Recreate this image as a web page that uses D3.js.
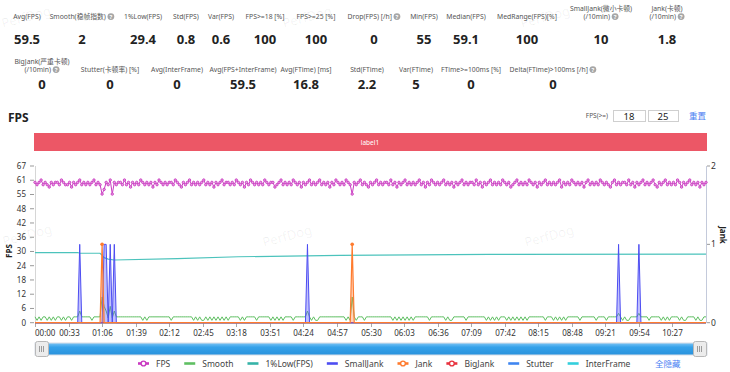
<!DOCTYPE html>
<html lang="en">

<head>
    <meta charset="UTF-8">
    <title>FPS</title>
    <script src="https://d3js.org/d3.v7.min.js"></script>
    <style>
        body {
            margin: 0;
            background-color: white;
        }

        svg {
            display: block;
            font-family: 'Noto Sans', 'Noto Sans CJK SC', sans-serif;
        }
    </style>
</head>

<body>
    <svg width="730" height="372"></svg>

    <script>
        // summary numbers
        const statLabels1 = ['Avg(FPS)', 'Smooth(稳帧指数)', '1%Low(FPS)', 'Std(FPS)', 'Var(FPS)', 'FPS>=18 [%]', 'FPS>=25 [%]',
            'Drop(FPS) [/h]', 'Min(FPS)', 'Median(FPS)', 'MedRange(FPS)[%]', 'SmallJank(微小卡顿)\n(/10min)', 'Jank(卡顿)\n(/10min)'];
        const statValues1 = ['59.5', '2', '29.4', '0.8', '0.6', '100', '100', '0', '55', '59.1', '100', '10', '1.8'];
        const statHelp1 = [false, true, false, false, false, false, false, true, false, false, false, true, true];

        const statLabels2 = ['BigJank(严重卡顿)\n(/10min)', 'Stutter(卡顿率) [%]', 'Avg(InterFrame)', 'Avg(FPS+InterFrame)',
            'Avg(FTime) [ms]', 'Std(FTime)', 'Var(FTime)', 'FTime>=100ms [%]', 'Delta(FTime)>100ms [/h]'];
        const statValues2 = ['0', '0', '0', '59.5', '16.8', '2.2', '5', '0', '0'];
        const statHelp2 = [true, false, false, false, false, false, false, false, true];

        // chart data, one sample every 2 s
        const fps = [
            60, 59, 60, 61, 59, 60, 59, 58, 60, 59, 60, 60, 59, 61, 60, 59, 59, 60, 58, 60,
            59, 60, 61, 59, 60, 59, 60, 59, 60, 61, 59, 60, 59, 55, 57, 60, 59, 61, 55, 60,
            59, 60, 60, 59, 61, 59, 60, 58, 60, 59, 60, 59, 61, 60, 59, 60, 59, 60, 58, 60,
            59, 61, 60, 59, 60, 59, 60, 60, 59, 61, 60, 59, 58, 60, 59, 60, 61, 59, 60, 59,
            60, 59, 60, 61, 59, 60, 59, 60, 58, 60, 59, 60, 61, 59, 60, 60, 59, 60, 59, 61,
            60, 59, 60, 58, 60, 59, 61, 60, 59, 60, 59, 60, 59, 61, 60, 59, 60, 60, 58, 59,
            60, 61, 59, 60, 59, 60, 59, 61, 60, 59, 60, 58, 60, 59, 60, 61, 59, 60, 59, 60,
            61, 59, 60, 59, 60, 58, 60, 59, 61, 60, 59, 60, 59, 61, 60, 59, 55, 60, 59, 60,
            61, 59, 60, 59, 58, 60, 59, 60, 61, 59, 60, 59, 60, 60, 59, 61, 59, 60, 58, 60,
            59, 60, 61, 59, 60, 59, 60, 59, 60, 61, 59, 60, 58, 60, 59, 61, 60, 59, 60, 59,
            60, 61, 59, 60, 59, 60, 58, 60, 59, 60, 61, 59, 60, 59, 60, 60, 59, 61, 59, 60,
            58, 60, 59, 60, 61, 59, 60, 59, 60, 59, 61, 60, 59, 60, 58, 59, 60, 61, 59, 60,
            59, 60, 59, 61, 60, 59, 60, 58, 60, 59, 60, 61, 59, 60, 59, 60, 59, 60, 61, 58,
            60, 59, 60, 59, 61, 60, 59, 60, 59, 60, 58, 60, 61, 59, 60, 59, 60, 59, 61, 60,
            59, 60, 59, 58, 60, 61, 59, 60, 59, 60, 60, 59, 61, 59, 60, 58, 60, 59, 60, 61,
            59, 60, 59, 60, 61, 59, 58, 60, 59, 60, 61, 59, 60, 59, 60, 59, 61, 60, 58, 60,
            59, 60, 61, 59, 60, 59, 60, 58, 60, 59, 60
        ];
        const smooth = [
            2.5, 1, 2.5, 1, 2.5, 2.5, 1, 2.5, 1, 2.5, 1, 2.5, 2.5, 1, 2.5, 1, 2.5, 2.5, 1, 2.5,
            2.5, 2.5, 5, 2.5, 2.5, 2.5, 2.5, 2.5, 1, 2.5, 2.5, 2.5, 2.5, 11, 7, 5, 2, 7, 2, 5,
            2.5, 2.5, 2.5, 2.5, 2.5, 2.5, 2.5, 2.5, 2.5, 2.5, 2.5, 2.5, 2.5, 1, 2.5, 1, 2.5, 2.5, 2.5, 2.5,
            2.5, 2.5, 2.5, 2.5, 2.5, 2.5, 2.5, 1, 2.5, 2.5, 2.5, 2.5, 2.5, 2.5, 2.5, 2.5, 2.5, 2.5, 1, 2.5,
            1, 2.5, 1, 1, 2.5, 1, 2.5, 1, 2.5, 1, 2.5, 1, 2.5, 1, 2.5, 1, 2.5, 2.5, 2.5, 2.5,
            2.5, 1, 2.5, 1, 2.5, 2.5, 2.5, 2.5, 2.5, 1, 2.5, 2.5, 2.5, 2.5, 2.5, 2.5, 1, 2.5, 1, 2.5,
            1, 2.5, 1, 2.5, 2.5, 2.5, 2.5, 1, 2.5, 2.5, 2.5, 2.5, 2.5, 2.5, 5, 2.5, 1, 2.5, 1, 1,
            2.5, 2.5, 2.5, 2.5, 2.5, 2.5, 2.5, 2.5, 2.5, 2.5, 2.5, 2.5, 2.5, 1, 2.5, 1, 11, 2.5, 1, 2.5,
            2.5, 2.5, 1, 2.5, 2.5, 2.5, 2.5, 2.5, 2.5, 2.5, 2.5, 2.5, 2.5, 2.5, 2.5, 2.5, 1, 2.5, 1, 2.5,
            1, 2.5, 1, 2.5, 1, 2.5, 1, 2.5, 2.5, 2.5, 2.5, 2.5, 2.5, 2.5, 1, 2.5, 2.5, 2.5, 2.5, 2.5,
            2.5, 2.5, 1, 2.5, 1, 1, 2.5, 2.5, 2.5, 2.5, 2.5, 2.5, 1, 2.5, 2.5, 2.5, 2.5, 2.5, 2.5, 2.5,
            2.5, 2.5, 1, 2.5, 1, 2.5, 1, 2.5, 1, 2.5, 2.5, 2.5, 1, 2.5, 1, 2.5, 1, 2.5, 1, 2.5,
            1, 2.5, 1, 2.5, 2.5, 2.5, 2.5, 2.5, 2.5, 2.5, 2.5, 1, 2.5, 2.5, 2.5, 1, 2.5, 1, 2.5, 1,
            2.5, 1, 2.5, 2.5, 2.5, 2.5, 2.5, 2.5, 1, 2.5, 2.5, 2.5, 2.5, 2.5, 2.5, 2.5, 1, 2.5, 2.5, 2.5,
            2.5, 1, 2.5, 2.5, 2.5, 2.5, 2.5, 4, 2.5, 1, 2.5, 1, 1, 2.5, 2.5, 2.5, 2.5, 4, 2.5, 2.5,
            2.5, 2.5, 1, 2.5, 2.5, 2.5, 2.5, 2.5, 1, 2.5, 1, 2.5, 1, 2.5, 2.5, 2.5, 2.5, 1, 2.5, 1,
            1, 2.5, 2.5, 2.5, 2.5, 1, 2.5, 1, 1, 2.5, 2.5
        ];
        // running 1%Low(FPS) as [seconds, value]
        const lowFps = [[0, 30], [42, 30], [44, 29.7], [64, 29.7], [66, 28.8], [68, 27.8], [72, 27.2], [78, 26.8],
            [140, 27.4], [200, 28.2], [300, 28.8], [447, 29.2], [660, 29.3]];
        const smallJankAt = [44, 68, 70, 74, 78, 268, 574, 594];
        const jankAt = [66, 312];

        const xTickLabels = ['00:00', '00:33', '01:06', '01:39', '02:12', '02:45', '03:18', '03:51', '04:24', '04:57',
            '05:30', '06:03', '06:36', '07:09', '07:42', '08:15', '08:48', '09:21', '09:54', '10:27'];
        const yTickLabels = ['0', '6', '12', '18', '24', '30', '36', '42', '48', '55', '61', '67'];
        const jankTickLabels = ['0', '1', '2'];
        const legendNames = ['FPS', 'Smooth', '1%Low(FPS)', 'SmallJank', 'Jank', 'BigJank', 'Stutter', 'InterFrame'];

        const colors = {
            FPS: '#c93ac1', Smooth: '#5fbf62', '1%Low(FPS)': '#35b3a8', SmallJank: '#4d4df2',
            Jank: '#ff7b2e', BigJank: '#e8333f', Stutter: '#3f86f0', InterFrame: '#33cfdc'
        };

        const svg = d3.select('svg');

        // watermarks
        [[3, 28], [284, 28], [522, 28], [4, 246], [264, 247], [526, 247]].forEach(p => {
            svg.append('text')
                .attr('transform', `translate(${p[0]},${p[1]}) rotate(-15)`)
                .attr('font-size', 13)
                .attr('fill', 'rgba(0,0,0,0.06)')
                .text('PerfDog');
        });

        function helpIcon(x, y) {
            svg.append('circle').attr('cx', x).attr('cy', y).attr('r', 3.4).attr('fill', '#a6a6a6');
            svg.append('text').attr('x', x).attr('y', y + 2.1)
                .attr('text-anchor', 'middle').attr('font-size', 5.8).attr('font-weight', 'bold')
                .attr('fill', 'white').text('?');
        }

        function drawStats(labels, values, help, centers, baseY, valueY) {
            labels.forEach((label, i) => {
                const lines = label.split('\n');
                lines.forEach((line, j) => {
                    const y = baseY - (lines.length - 1 - j) * 8.5;
                    const last = j === lines.length - 1;
                    const t = svg.append('text')
                        .attr('y', y)
                        .attr('font-size', 6.8)
                        .attr('fill', '#555')
                        .text(line);
                    const w = t.node().getComputedTextLength();
                    const full = w + (help[i] && last ? 8.5 : 0);
                    const x0 = centers[i] - full / 2;
                    t.attr('x', x0);
                    if (help[i] && last) helpIcon(x0 + w + 5, y - 2.4);
                });
                svg.append('text')
                    .attr('x', centers[i])
                    .attr('y', valueY)
                    .attr('text-anchor', 'middle')
                    .attr('font-size', 13)
                    .attr('font-weight', 'bold')
                    .attr('fill', '#222')
                    .text(values[i]);
            });
        }

        drawStats(statLabels1, statValues1, statHelp1,
            [27, 82, 143, 186, 221, 265, 316, 374, 424, 466, 527, 601, 667], 19, 44);
        drawStats(statLabels2, statValues2, statHelp2,
            [42, 110, 177, 243, 306, 367, 416, 471, 553], 72, 89);

        // section header
        svg.append('text').attr('x', 8).attr('y', 122)
            .attr('font-size', 12).attr('font-weight', 'bold').attr('fill', '#222').text('FPS');

        svg.append('text').attr('x', 608).attr('y', 118).attr('text-anchor', 'end')
            .attr('font-size', 6.5).attr('fill', '#555').text('FPS(>=)');
        [[613, 32, '18'], [648, 30, '25']].forEach(b => {
            svg.append('rect').attr('x', b[0] + 0.5).attr('y', 110.5).attr('width', b[1]).attr('height', 11)
                .attr('fill', 'white').attr('stroke', '#cfcfcf');
            svg.append('text').attr('x', b[0] + b[1] / 2).attr('y', 119.5).attr('text-anchor', 'middle')
                .attr('font-size', 9.5).attr('fill', '#222').text(b[2]);
        });
        svg.append('text').attr('x', 689).attr('y', 119).attr('font-size', 8.5)
            .attr('fill', '#4a7ef2').text('重置');

        svg.append('rect').attr('x', 34).attr('y', 133).attr('width', 673).attr('height', 18)
            .attr('fill', '#ec5766');
        svg.append('text').attr('x', 370).attr('y', 145).attr('text-anchor', 'middle')
            .attr('font-size', 6.5).attr('fill', 'white').text('label1');

        // chart
        const x = d3.scaleLinear().domain([0, 660]).range([35, 706]);
        const y = d3.scaleLinear().domain([0, 67]).range([322.7, 166]);
        const yJank = d3.scaleLinear().domain([0, 2]).range([322.7, 166]);

        const toSec = s => +s.slice(0, 2) * 60 + +s.slice(3);

        const chart = svg.append('g');

        // left axis
        chart.append('line').attr('x1', 35.5).attr('x2', 35.5).attr('y1', 166).attr('y2', 323)
            .attr('stroke', '#d6d6d6');
        yTickLabels.forEach((lab, i) => {
            const yy = y(i * 67 / (yTickLabels.length - 1));
            chart.append('line').attr('x1', 30).attr('x2', 34).attr('y1', yy).attr('y2', yy).attr('stroke', '#999');
            chart.append('text').attr('x', 26).attr('y', yy + 3).attr('text-anchor', 'end')
                .attr('font-size', 8).attr('fill', '#333').text(lab);
        });
        chart.append('text').attr('transform', 'translate(12,251) rotate(-90)').attr('text-anchor', 'middle')
            .attr('font-size', 8).attr('font-weight', 'bold').attr('fill', '#222').text('FPS');

        // right axis
        chart.append('line').attr('x1', 706.5).attr('x2', 706.5).attr('y1', 166).attr('y2', 323)
            .attr('stroke', '#c4cadb');
        jankTickLabels.forEach((lab, i) => {
            const yy = yJank(i);
            chart.append('line').attr('x1', 707).attr('x2', 710).attr('y1', yy).attr('y2', yy).attr('stroke', '#999');
            chart.append('text').attr('x', 711).attr('y', yy + 3)
                .attr('font-size', 8.5).attr('fill', '#333').text(lab);
        });
        chart.append('text').attr('transform', 'translate(720,235) rotate(90)').attr('text-anchor', 'middle')
            .attr('font-size', 8).attr('font-weight', 'bold').attr('fill', '#222').text('Jank');

        // x axis
        chart.append('line').attr('x1', 35).attr('x2', 706).attr('y1', 323).attr('y2', 323).attr('stroke', '#b9b9b9');
        xTickLabels.forEach((lab, i) => {
            const xx = Math.round(x(toSec(lab))) + 0.5;
            chart.append('line').attr('x1', xx).attr('x2', xx).attr('y1', 323).attr('y2', 327).attr('stroke', '#aaa');
            chart.append('text').attr('x', i === 0 ? 35 : xx).attr('y', 336)
                .attr('text-anchor', i === 0 ? 'start' : 'middle')
                .attr('font-size', 8).attr('fill', '#333').text(lab);
        });

        const times = fps.map((v, i) => i * 2);
        const smallJank = times.map(t => smallJankAt.includes(t) ? 1 : 0);
        const jank = times.map(t => jankAt.includes(t) ? 1 : 0);

        const lineL = d3.line().x((d, i) => x(times[i])).y(d => y(d));
        const lineR = d3.line().x((d, i) => x(times[i])).y(d => yJank(d));
        const areaR = d3.area().x((d, i) => x(times[i])).y0(yJank(0)).y1(d => yJank(d));

        // flat series at zero
        ['InterFrame', 'Stutter', 'BigJank'].forEach(name => {
            chart.append('path').datum(times.map(() => 0)).attr('d', lineR)
                .attr('fill', 'none').attr('stroke', colors[name]).attr('stroke-width', 1.2);
        });

        chart.append('path').datum(lowFps)
            .attr('d', d3.line().x(d => x(d[0])).y(d => y(d[1])))
            .attr('fill', 'none').attr('stroke', '#4cc3bc').attr('stroke-width', 1.2);

        chart.append('path').datum(fps).attr('d', lineL)
            .attr('fill', 'none').attr('stroke', colors.FPS).attr('stroke-width', 1);
        chart.append('g').selectAll('circle')
            .data(fps)
            .enter().append('circle')
            .attr('cx', (d, i) => x(times[i]))
            .attr('cy', d => y(d))
            .attr('r', 1.2)
            .attr('fill', '#e7a3e2')
            .attr('stroke', colors.FPS)
            .attr('stroke-width', 0.9);

        chart.append('path').datum(smooth).attr('d', lineL)
            .attr('fill', 'none').attr('stroke', colors.Smooth).attr('stroke-width', 1);

        chart.append('path').datum(smallJank).attr('d', areaR).attr('fill', 'rgba(90,90,250,0.38)');
        chart.append('path').datum(smallJank).attr('d', lineR)
            .attr('fill', 'none').attr('stroke', colors.SmallJank).attr('stroke-width', 1);

        chart.append('path').datum(jank).attr('d', areaR).attr('fill', 'rgba(255,130,60,0.35)');
        chart.append('path').datum(jank).attr('d', lineR)
            .attr('fill', 'none').attr('stroke', colors.Jank).attr('stroke-width', 1.2);
        chart.append('g').selectAll('circle')
            .data(jankAt)
            .enter().append('circle')
            .attr('cx', d => x(d))
            .attr('cy', yJank(1))
            .attr('r', 1.8)
            .attr('fill', colors.Jank);

        // zoom slider
        const grad = svg.append('defs').append('linearGradient').attr('id', 'sl')
            .attr('x1', 0).attr('y1', 0).attr('x2', 0).attr('y2', 1);
        grad.append('stop').attr('offset', 0).attr('stop-color', '#7cc4f4');
        grad.append('stop').attr('offset', 0.35).attr('stop-color', '#36a2ea');
        grad.append('stop').attr('offset', 1).attr('stop-color', '#2a92dc');
        svg.append('rect').attr('x', 35).attr('y', 343).attr('width', 672).attr('height', 12)
            .attr('fill', 'url(#sl)').attr('stroke', '#d8dee8');
        [35, 693].forEach(hx => {
            svg.append('rect').attr('x', hx + 0.5).attr('y', 341.5).attr('width', 13).attr('height', 15).attr('rx', 2)
                .attr('fill', '#ececec').attr('stroke', '#b8b8b8');
            [4.5, 6.5, 8.5].forEach(dx => {
                svg.append('line').attr('x1', hx + dx).attr('x2', hx + dx).attr('y1', 346).attr('y2', 352)
                    .attr('stroke', '#888').attr('stroke-width', 0.8);
            });
        });

        // legend
        let lx = 138;
        legendNames.forEach(name => {
            const c = colors[name];
            svg.append('line').attr('x1', lx).attr('x2', lx + 11).attr('y1', 363.5).attr('y2', 363.5)
                .attr('stroke', c).attr('stroke-width', 2.6);
            if (name === 'FPS' || name === 'Jank' || name === 'BigJank') {
                svg.append('circle').attr('cx', lx + 5.5).attr('cy', 363.5).attr('r', 2.4)
                    .attr('fill', 'white').attr('stroke', c).attr('stroke-width', 1.4);
            }
            const t = svg.append('text').attr('x', lx + 18).attr('y', 366.5)
                .attr('font-size', 8.5).attr('fill', '#444').text(name);
            lx += 18 + t.node().getComputedTextLength() + 14;
        });
        svg.append('text').attr('x', 655).attr('y', 366.5).attr('font-size', 8.5)
            .attr('fill', '#4a7ef2').text('全隐藏');
    </script>
</body>

</html>
